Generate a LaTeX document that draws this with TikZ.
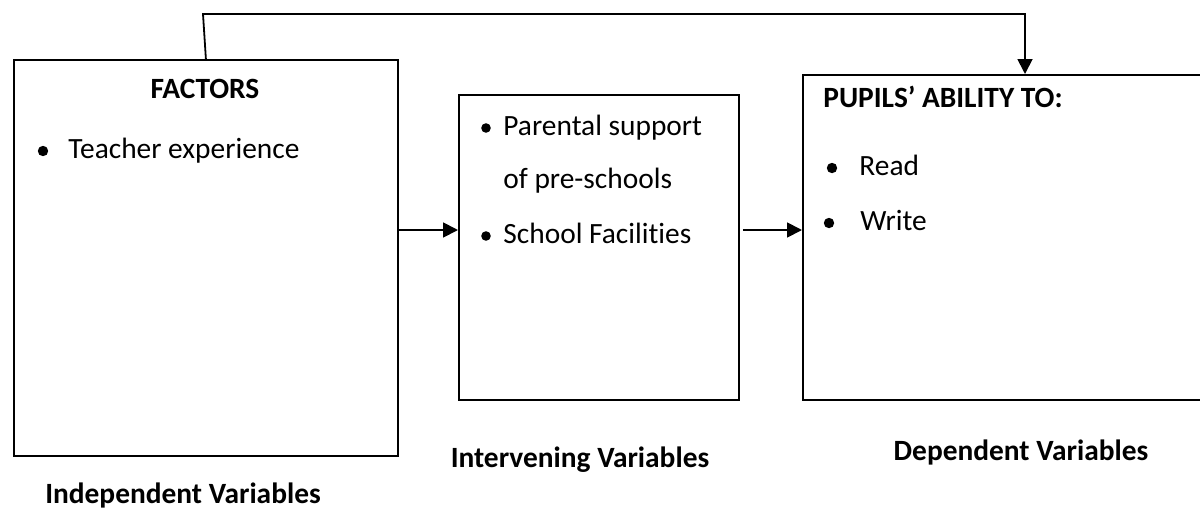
\documentclass[tikz,border=0pt]{standalone}
\usepackage{fontspec}
\setmainfont{Carlito}[Ligatures={NoCommon}]
\usetikzlibrary{arrows.meta}
\tikzset{
  box/.style={draw, line width=0.9pt, anchor=north west, inner sep=0pt},
  txt/.style={anchor=base west, inner sep=0pt, font=\fontsize{14.7}{17}\selectfont},
  btxt/.style={anchor=base, inner sep=0pt, font=\fontsize{14.7}{17}\selectfont\bfseries},
  arr/.style={line width=0.9pt, -{Triangle[length=7.5pt,width=7.5pt]}},
  bul/.style={fill=black}
}
\begin{document}
\begin{tikzpicture}[x=0.5pt,y=-0.5pt]
\useasboundingbox (0,0) rectangle (1200,509);
\clip (0,0) rectangle (1200,509);
% boxes
\node[box, minimum width=192pt, minimum height=198pt] (b1) at (13,59) {};
\node[box, minimum width=140pt, minimum height=152.5pt] (b2) at (458,94) {};
\node[box, minimum width=206.5pt, minimum height=162.5pt] (b3) at (802,74) {};
% box 1 text
\node[btxt] (f) at (205,98) {FACTORS};
\fill[bul] (43,151) circle (2.6pt);
\node[txt] (t1) at (68,158) {Teacher experience};
% box 2 text
\fill[bul] (486,128) circle (2.4pt);
\node[txt] (p1) at (503,135) {Parental support};
\node[txt] (p2) at (503,188) {of pre-schools};
\fill[bul] (486,236) circle (2.4pt);
\node[txt] (p3) at (503,243) {School Facilities};
% box 3 text
\node[txt, font=\fontsize{14.7}{17}\selectfont\bfseries] (h3) at (823,107) {PUPILS’ ABILITY TO:};
\fill[bul] (832,168) circle (2.6pt);
\node[txt] (r) at (859,175) {Read};
\fill[bul] (829,223) circle (2.6pt);
\node[txt] (w) at (860,230) {Write};
% bottom labels
\node[btxt] (l1) at (183,503) {Independent Variables};
\node[btxt] (l2) at (580,467) {Intervening Variables};
\node[btxt] (l3) at (1021,460) {Dependent Variables};
% connectors
\coordinate (tl) at (203,14);
\coordinate (tr) at (1025,14);
\draw[arr] (b1.east |- 0,230) -- (b2.west |- 0,230);
\draw[arr] ([xshift=1.5pt]b2.east |- 0,230) -- (b3.west |- 0,230);
\draw[arr] (b1.north) -- (tl) -- (tr) -- (b3.north -| tr);
\end{tikzpicture}
\end{document}
